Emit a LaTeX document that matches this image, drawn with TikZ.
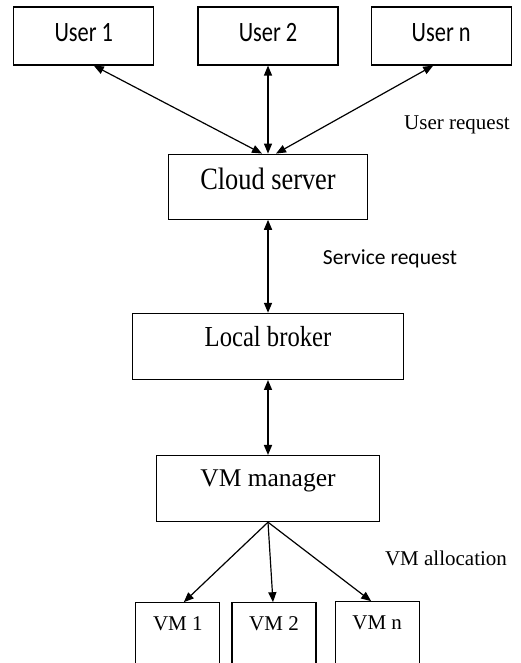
\documentclass[tikz,border=0pt]{standalone}
\usepackage{fontspec}
\setmainfont{Liberation Serif}
\newfontfamily\calfont{Carlito}
\newfontfamily\calnarrow[FakeStretch=0.8]{Carlito}
\newfontfamily\serifnarrow[FakeStretch=0.85]{Liberation Serif}
\usetikzlibrary{positioning,arrows.meta}

\begin{document}
\begin{tikzpicture}[x=1pt, y=1pt, line width=1.2pt,
    box/.style = {draw, rectangle, inner sep=0pt, font=\fontsize{25.5}{30}\selectfont, text height=18pt},
    user/.style = {box, minimum width=140pt, minimum height=58pt, font=\calnarrow\fontsize{28}{32}\selectfont, text height=19pt, text depth=7.6pt},
    vm/.style = {box, minimum width=84pt, minimum height=64pt, font=\fontsize{21}{25}\selectfont, text height=14pt, text depth=22pt},
    note/.style = {font=\fontsize{21}{25}\selectfont},
    link/.style = {-{Triangle[length=10pt,width=8pt]}},
    both/.style = {{Triangle[length=10pt,width=8pt]}-{Triangle[length=10pt,width=8pt]}}]
    \useasboundingbox (0,0) rectangle (521,663);
    % users
    \node[user] (u2) at (268,627) {User 2};
    \node[user] (u1) [left=43pt of u2] {User 1};
    \node[user] (un) [right=32pt of u2] {User n};
    % middle chain
    \node[box, minimum width=199pt, minimum height=65pt, font=\serifnarrow\fontsize{31}{36}\selectfont, text height=21pt, text depth=16pt] (cs) [below=88pt of u2] {Cloud server};
    \node[box, minimum width=271pt, minimum height=66pt, font=\serifnarrow\fontsize{29}{34}\selectfont, text height=20pt, text depth=20pt] (lb) [below=93pt of cs] {Local broker};
    \node[box, minimum width=223pt, minimum height=66pt, text depth=23pt] (vmm) [below=75pt of lb] {VM manager};
    % virtual machines
    \node[vm] (v2) [below=80pt of vmm, xshift=6pt] {VM 2};
    \node[vm] (v1) [left=11pt of v2] {VM 1};
    \node[vm] (vn) [right=18pt of v2, yshift=1pt] {VM n};
    % labels
    \node[note] (ur) at (457,538) {User request};
    \node[note, font=\calfont\fontsize{21.5}{26}\selectfont] (sr) at (390,404) {Service request};
    \node[note] (va) at (446,105) {VM allocation};
    % connectors
    \draw[both] ([xshift=10pt]u1.south) -- ([xshift=-6pt]cs.north);
    \draw[both] (u2.south) -- (cs.north);
    \draw[both] ([xshift=-8pt]un.south) -- ([xshift=8pt]cs.north);
    \draw[both, line width=1.6pt] (cs) -- (lb);
    \draw[both, line width=1.6pt] (lb) -- (vmm);
    \draw[link] (vmm.south) -- ([xshift=6pt]v1.north);
    \draw[link] (vmm.south) -- ([xshift=-1pt]v2.north);
    \draw[link] (vmm.south) -- ([xshift=-6pt]vn.north);
\end{tikzpicture}
\end{document}
